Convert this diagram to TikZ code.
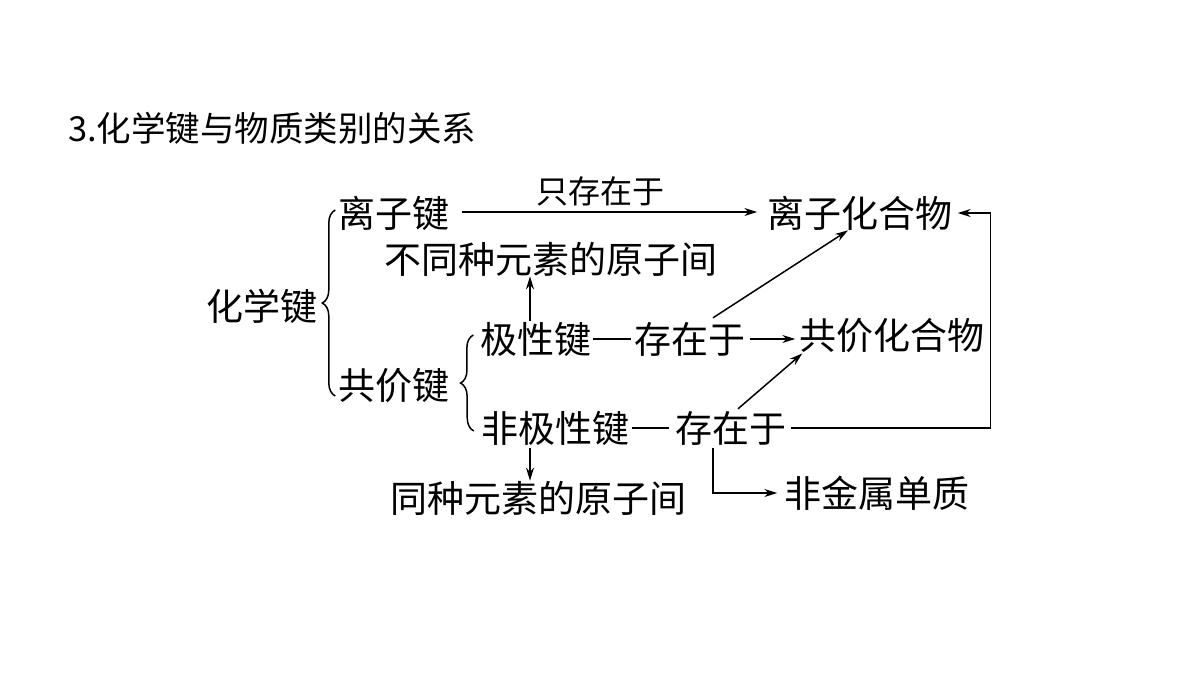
\documentclass[tikz,border=0pt]{standalone}
\usepackage{fontspec}
\newfontfamily\cjk{Noto Sans CJK SC}
\usetikzlibrary{arrows.meta,calc,decorations.pathreplacing}
\begin{document}
\begin{tikzpicture}[x=1pt,y=-1pt,
  txt/.style={inner sep=0pt, font=\cjk\fontsize{37}{37}\selectfont},
  ttl/.style={inner sep=0pt, anchor=west, font=\cjk\fontsize{34.5}{34.5}\selectfont},
  lbl/.style={inner sep=0pt, font=\cjk\fontsize{32}{32}\selectfont},
  arr/.style={-{Stealth[length=13pt,width=8pt]}, line width=1.5pt},
  ln/.style={line width=1.5pt},
  brc/.style={decorate, decoration={brace, amplitude=13pt}, line width=1.5pt}]
\useasboundingbox[fill=white] (0,0) rectangle (1200,675);

\node[ttl] (title) at (68,128) {3.化学键与物质类别的关系};

\node[txt] (hxj) at (262,306) {化学键};
\node[txt] (lzj) at (394,213) {离子键};
\node[txt] (gjj) at (394,386) {共价键};
\node[txt] (lzhhw) at (860,213) {离子化合物};
\node[lbl] (only) at (600,191) {只存在于};
\node[txt] (btz) at (551,259) {不同种元素的原子间};
\node[txt] (jxj) at (536,339) {极性键};
\node[txt] (czy1) at (690,339) {存在于};
\node[txt] (gjhhw) at (892,336) {共价化合物};
\node[txt] (fjxj) at (555,428) {非极性键};
\node[txt] (czy2) at (731,428) {存在于};
\node[txt] (tz) at (538,498) {同种元素的原子间};
\node[txt] (fjs) at (877,493) {非金属单质};

% braces
\draw[brc] ($(gjj.west)+(-3,10)$) -- ($(lzj.west)+(-3,-3)$);
\draw[brc] ($(fjxj.west)+(-7,3)$) -- ($(jxj.west)+(-7,-4)$);

% ionic bond
\draw[arr] ($(lzj.east)+(12,-1)$) -- ($(lzhhw.west)+(-10,-1)$);

% polar bond
\coordinate (u1) at ($(jxj.north)+(-6,-1)$);
\draw[arr] (u1) -- (u1 |- btz.south);
\draw[ln] ($(jxj.east)+(1,0)$) -- ($(czy1.west)+(-3,0)$);
\coordinate (p1) at ($(czy1.east)+(4,0)$);
\draw[arr] (p1) -- ($(gjhhw.west |- p1)+(-4,0)$);
\draw[arr] ($(czy1.north)+(23,-4)$) -- ($(lzhhw.south)+(-12,0)$);

% nonpolar bond
\coordinate (d1) at ($(fjxj.south)+(-25,3)$);
\draw[arr] (d1) -- (d1 |- tz.north);
\draw[ln] ($(fjxj.east)+(3,0)$) -- ($(czy2.west)+(-6,0)$);
\draw[arr] ($(czy2.north)+(7,-2)$) -- ($(gjhhw.south west)+(3,0)$);
\draw[arr] ($(czy2.east)+(4,0)$) -- ++(200,0) |- ($(lzhhw.east)+(5,0)$);
\coordinate (d2) at ($(czy2.south)+(-18,3)$);
\draw[arr] (d2) |- ($(fjs.west)+(-7,0)$);
\end{tikzpicture}
\end{document}
